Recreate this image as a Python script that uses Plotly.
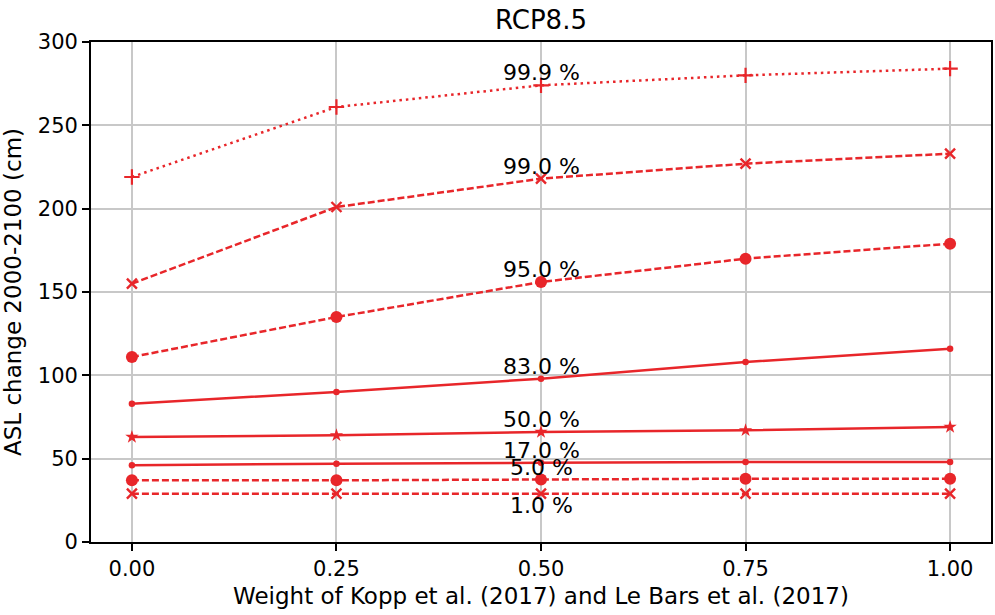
import plotly.graph_objects as go

# Weight given to Kopp et al. (2017) and Le Bars et al. (2017)
weights = [0.0, 0.25, 0.5, 0.75, 1.0]

# ASL change 2000-2100 (cm) for each percentile, RCP8.5
percentiles = ["99.9 %", "99.0 %", "95.0 %", "83.0 %", "50.0 %", "17.0 %", "5.0 %", "1.0 %"]
p999 = [219, 261, 274, 280, 284]
p990 = [155, 201, 218, 227, 233]
p950 = [111, 135, 156, 170, 179]
p830 = [83, 90, 98, 108, 116]
p500 = [63, 64, 66, 67, 69]
p170 = [46, 47, 47.5, 48, 48]
p050 = [37, 37, 37.5, 38, 38]
p010 = [29, 29, 29, 29, 29]

series = [p999, p990, p950, p830, p500, p170, p050, p010]

RED = "#e8262a"
FONT = "DejaVu Sans"

# line dash, marker symbol, marker size, marker line width
styles = [
    ("2.5px,4px", "cross-thin", 11, 2.2),
    ("7px,3px", "x-thin", 10, 2.4),
    ("7px,3px", "circle", 12, 0),
    ("solid", "circle", 6.5, 0),
    ("solid", "star", 10, 0),
    ("solid", "circle", 6.5, 0),
    ("7px,3px", "circle", 12, 0),
    ("7px,3px", "x-thin", 10, 2.4),
]

fig = go.Figure()
for name, vals, (dash, sym, size, mlw) in zip(percentiles, series, styles):
    fig.add_trace(go.Scatter(
        x=weights, y=vals, name=name, mode="lines+markers",
        line=dict(color=RED, width=2.5, dash=dash),
        marker=dict(symbol=sym, size=size, color=RED,
                    line=dict(color=RED, width=mlw)),
        showlegend=False,
    ))

# Percentile labels at the middle weight
for i, (name, vals) in enumerate(zip(percentiles, series)):
    below = name == "1.0 %"
    fig.add_annotation(
        x=0.5, y=vals[2], text=name, showarrow=False,
        xanchor="center", yanchor="top" if below else "bottom",
        yshift=3 if below else -2,
        font=dict(family=FONT, size=22, color="black"),
    )

axis_common = dict(
    showline=True, linecolor="black", linewidth=1.7, mirror=True,
    ticks="outside", ticklen=7, tickwidth=1.7, tickcolor="black",
    showgrid=True, gridcolor="#c8c8c8", gridwidth=1.6,
    zeroline=False,
    tickfont=dict(family=FONT, size=21, color="black"),
)

fig.update_xaxes(
    range=[-0.05, 1.05], tickvals=weights,
    ticktext=["0.00", "0.25", "0.50", "0.75", "1.00"],
    title=dict(text="Weight of Kopp et al. (2017) and Le Bars et al. (2017)",
               font=dict(family=FONT, size=23, color="black"), standoff=8),
    **axis_common,
)
fig.update_yaxes(
    range=[0, 300], tickvals=[0, 50, 100, 150, 200, 250, 300],
    title=dict(text="ASL change 2000-2100 (cm)",
               font=dict(family=FONT, size=23, color="black"), standoff=10),
    **axis_common,
)

fig.update_layout(
    width=995, height=615,
    margin=dict(l=91, r=2, t=42, b=73),
    paper_bgcolor="white", plot_bgcolor="white",
    title=dict(text="RCP8.5", xref="paper", x=0.5, xanchor="center",
               y=0.968, yanchor="middle",
               font=dict(family=FONT, size=26, color="black")),
    font=dict(family=FONT),
)

fig.write_html("out.html")
